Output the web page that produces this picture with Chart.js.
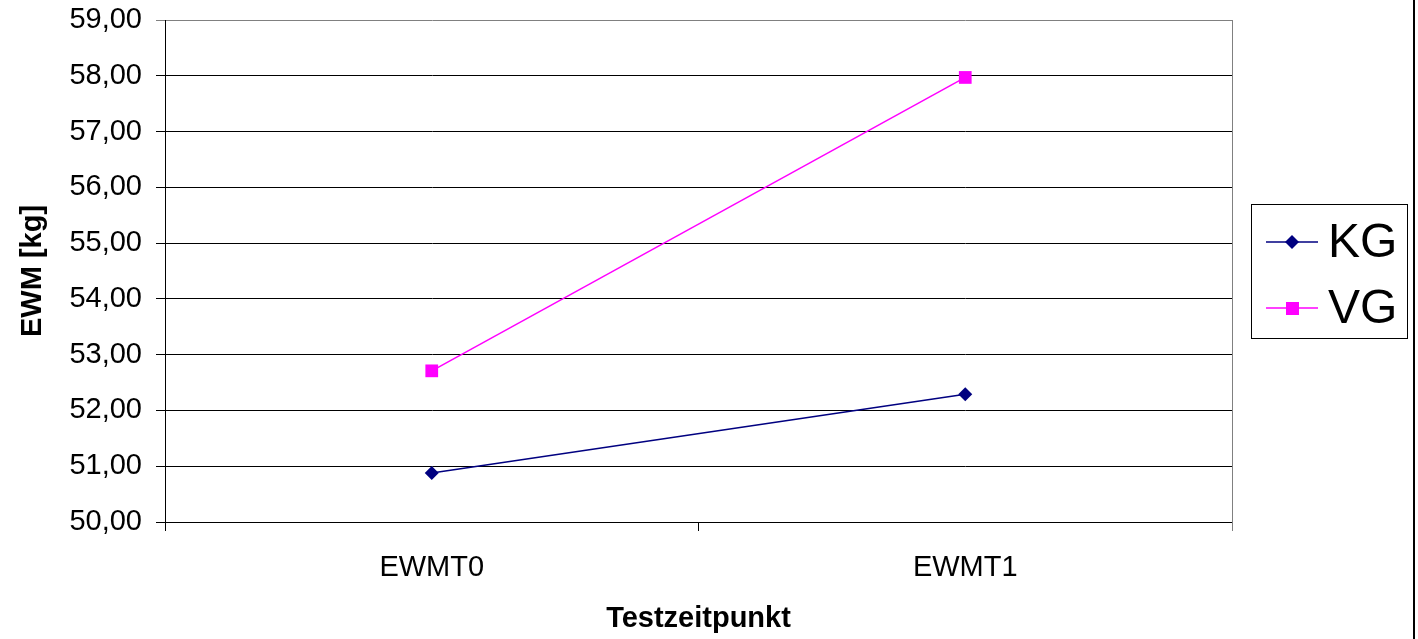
<!DOCTYPE html>
<html>
<head>
<meta charset="utf-8">
<script src="https://cdn.jsdelivr.net/npm/chart.js@4/dist/chart.umd.min.js"></script>
<style>
  html, body { margin: 0; padding: 0; background: #fff; }
  canvas { display: block; }
</style>
</head>
<body>
<canvas id="ewm-chart" width="1418" height="639"></canvas>
<script>
const zeitpunkte = ['EWMT0', 'EWMT1'];
const kgWerte = [50.88, 52.29];
const vgWerte = [52.71, 57.97];
const yMin = 50;
const yMax = 59;

const fontFamily = '"Liberation Sans", Arial, sans-serif';

// legend box on the right, plus the frame line and outer border
const boxPlugin = {
  id: 'boxPlugin',
  afterDraw(chart) {
    const ctx = chart.ctx;
    const area = chart.chartArea;
    ctx.save();
    // right edge of plot area
    ctx.strokeStyle = '#808080';
    ctx.lineWidth = 1;
    ctx.beginPath();
    ctx.moveTo(area.right + 0.5, area.top);
    ctx.lineTo(area.right + 0.5, area.bottom + 9);
    ctx.stroke();

    // legend frame
    const lx = 1251, ly = 204, lw = 156, lh = 134;
    ctx.strokeStyle = '#000';
    ctx.strokeRect(lx + 0.5, ly + 0.5, lw, lh);

    const rows = [242, 308];
    chart.data.datasets.forEach((ds, i) => {
      const y = rows[i];
      ctx.strokeStyle = ds.borderColor;
      ctx.lineWidth = 1.5;
      ctx.beginPath();
      ctx.moveTo(1266, y);
      ctx.lineTo(1318, y);
      ctx.stroke();
      ctx.fillStyle = ds.pointBackgroundColor;
      ctx.beginPath();
      if (ds.pointStyle === 'rectRot') {
        ctx.moveTo(1292, y - 7);
        ctx.lineTo(1299, y);
        ctx.lineTo(1292, y + 7);
        ctx.lineTo(1285, y);
        ctx.closePath();
      } else {
        ctx.rect(1286, y - 6, 13, 13);
      }
      ctx.fill();
      ctx.fillStyle = '#000';
      ctx.font = '48px ' + fontFamily;
      ctx.textBaseline = 'middle';
      ctx.textAlign = 'left';
      ctx.fillText(ds.label, 1328, y + 2);
    });

    // outer border on the right
    ctx.fillStyle = '#000';
    ctx.fillRect(1413, 0, 2, 639);
    ctx.restore();
  }
};

new Chart(document.getElementById('ewm-chart'), {
  type: 'line',
  data: {
    labels: zeitpunkte,
    datasets: [{
      label: 'KG',
      data: kgWerte,
      borderColor: '#000080',
      backgroundColor: '#000080',
      pointBackgroundColor: '#000080',
      pointBorderColor: '#000080',
      pointStyle: 'rectRot',
      pointRadius: 7,
      pointBorderWidth: 0,
      borderWidth: 1.5,
      tension: 0
    }, {
      label: 'VG',
      data: vgWerte,
      borderColor: '#FF00FF',
      backgroundColor: '#FF00FF',
      pointBackgroundColor: '#FF00FF',
      pointBorderColor: '#FF00FF',
      pointStyle: 'rect',
      pointRadius: 9,
      pointBorderWidth: 0,
      borderWidth: 1.5,
      tension: 0
    }]
  },
  plugins: [boxPlugin],
  options: {
    responsive: false,
    animation: false,
    layout: {
      padding: { left: 0, right: 186, top: 20, bottom: 0 }
    },
    plugins: {
      legend: { display: false },
      tooltip: { enabled: false }
    },
    scales: {
      x: {
        offset: true,
        afterFit(scale) { scale.height = 117; },
        grid: {
          offset: true,
          drawOnChartArea: false,
          tickLength: 9,
          color: '#000'
        },
        border: { color: '#000', width: 1 },
        ticks: {
          color: '#000',
          padding: 20,
          font: { family: fontFamily, size: 29 }
        },
        title: {
          display: true,
          text: 'Testzeitpunkt',
          color: '#000',
          padding: { top: 0, bottom: 3 },
          font: { family: fontFamily, size: 29, weight: 'bold' }
        }
      },
      y: {
        min: yMin,
        max: yMax,
        afterFit(scale) {
          scale.width = 165;
          scale.paddingTop = 0;
          scale.paddingBottom = 0;
        },
        grid: {
          tickLength: 9,
          color: ctx => ctx.tick && ctx.tick.value === yMax ? '#808080' : '#000'
        },
        border: { color: '#000', width: 1 },
        ticks: {
          stepSize: 1,
          color: '#000',
          padding: 14,
          font: { family: fontFamily, size: 29 },
          callback: v => v.toFixed(2).replace('.', ',')
        },
        title: {
          display: true,
          text: 'EWM [kg]',
          color: '#000',
          padding: { top: 16, bottom: 0 },
          font: { family: fontFamily, size: 29, weight: 'bold' }
        }
      }
    }
  }
});
</script>
</body>
</html>
